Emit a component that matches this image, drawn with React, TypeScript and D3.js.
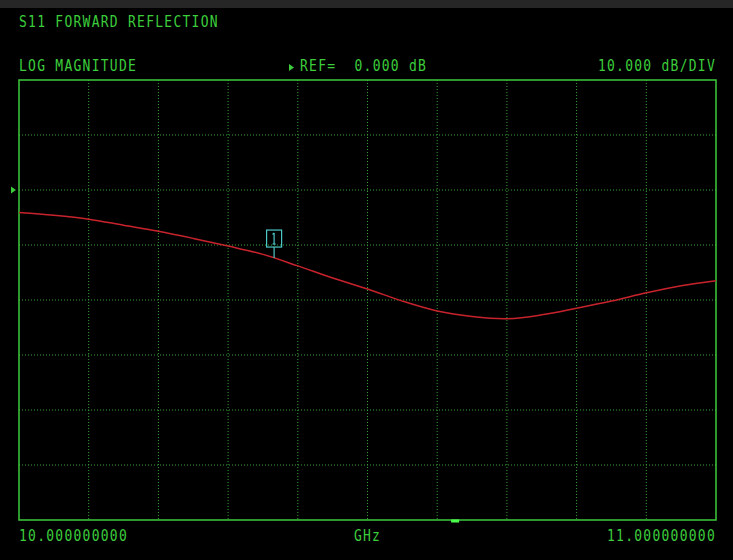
import React from 'react';
import * as d3 from 'd3';

// trace, 10.00 .. 11.00 GHz
const freqs = [10.0, 10.05, 10.1, 10.15, 10.2, 10.25, 10.3, 10.35, 10.4, 10.45, 10.5,
  10.55, 10.6, 10.65, 10.7, 10.75, 10.8, 10.85, 10.9, 10.95, 11.0];
const s11dB = [-4.1, -4.6, -5.3, -6.4, -7.5, -8.8, -10.2, -11.7, -13.8, -16.0, -18.0,
  -20.2, -22.0, -23.0, -23.4, -22.7, -21.5, -20.2, -18.7, -17.4, -16.5];
const markerFreqs = [10.366];
const xTicks = d3.range(0, 11).map(i => 10 + i * 0.1);
const yTicks = d3.range(0, 9).map(i => 20 - i * 10);

const W = 733;
const H = 560;
const left = 19;
const right = 716;
const top = 80;
const bottom = 520;

const GREEN = '#3ccc3c';
const GRID = '#38a038';
const FONT = '"DejaVu Sans Mono", "Liberation Mono", monospace';
const LS = 1.27; // pad the 13px mono cell out to the screen's 9.1px pitch

// tall, narrow instrument-style label
const Label = ({ x, y, anchor = 'start', children }:
  { x: number; y: number; anchor?: string; children: string }) => (
  <text transform={`translate(${x},${y}) scale(1,1.17)`} textAnchor={anchor}
    letterSpacing={LS} style={{ whiteSpace: 'pre' }}>{children}</text>
);

const App = () => {
  const x = d3.scaleLinear().domain([10, 11]).range([left, right]);
  const y = d3.scaleLinear().domain([20, -60]).range([top, bottom]);
  const pts = freqs.map((f, i) => [f, s11dB[i]] as [number, number]);

  const line = d3.line<[number, number]>()
    .x(d => x(d[0]))
    .y(d => y(d[1]))
    .curve(d3.curveCatmullRom.alpha(0.5));

  const interp = (f: number) => {
    const i = d3.bisectRight(freqs, f) - 1;
    const t = (f - freqs[i]) / (freqs[i + 1] - freqs[i]);
    return s11dB[i] + t * (s11dB[i + 1] - s11dB[i]);
  };

  const refY = y(0);
  const fmt = d3.format('.9f');

  return (
    <svg width={W} height={H} style={{ display: 'block', background: '#000' }}>
      <style>{`body{margin:0;background:#000}`}</style>
      <rect x={0} y={0} width={W} height={8} fill="#262626" />

      <g fontFamily={FONT} fontSize={13} fill={GREEN}>
        <Label x={19} y={27}>S11 FORWARD REFLECTION</Label>
        <Label x={19} y={71}>LOG MAGNITUDE</Label>
        <path d="M289,64 L294,67.5 L289,71 Z" fill={GREEN} />
        <Label x={300} y={71}>{'REF=  0.000 dB'}</Label>
        <Label x={716} y={71} anchor="end">10.000 dB/DIV</Label>
        <Label x={19} y={541}>{fmt(xTicks[0])}</Label>
        <Label x={(left + right) / 2} y={541} anchor="middle">GHz</Label>
        <Label x={716} y={541} anchor="end">{fmt(xTicks[xTicks.length - 1])}</Label>
      </g>

      {/* grid */}
      {xTicks.slice(1, -1).map(t => (
        <line key={'vx' + t} x1={x(t)} x2={x(t)} y1={top} y2={bottom}
          stroke={GRID} strokeWidth={1} strokeDasharray="1,2" />
      ))}
      {yTicks.slice(1, -1).map(t => (
        <line key={'hy' + t} x1={left} x2={right} y1={y(t)} y2={y(t)}
          stroke={GRID} strokeWidth={1} strokeDasharray="1,2" />
      ))}
      <rect x={left} y={top} width={right - left} height={bottom - top}
        fill="none" stroke={GREEN} strokeWidth={1.5} />

      {/* reference level arrow */}
      <path d={`M11,${refY - 3.5} L16,${refY} L11,${refY + 3.5} Z`} fill={GREEN} />

      {/* trace */}
      <path d={line(pts) || ''} fill="none" stroke="#c8232d" strokeWidth={1.5} />

      {/* marker 1 */}
      {markerFreqs.map((f, i) => {
        const mx = x(f);
        const my = y(interp(f));
        return (
          <g key={'m' + i} stroke="#4cc8c8" fill="none" strokeWidth={1.2}>
            <rect x={mx - 7.5} y={my - 28} width={15} height={17} />
            <line x1={mx} x2={mx} y1={my - 11} y2={my} />
            <line x1={mx} x2={mx} y1={my - 25} y2={my - 14} />
            <line x1={mx - 1.5} x2={mx} y1={my - 23.5} y2={my - 25} />
            <line x1={mx - 1.5} x2={mx + 1.5} y1={my - 14} y2={my - 14} />
          </g>
        );
      })}

      {/* stimulus marker */}
      <rect x={x(10.62)} y={bottom - 0.5} width={8} height={3} fill="#4cff4c" />
    </svg>
  );
};

export default App;
